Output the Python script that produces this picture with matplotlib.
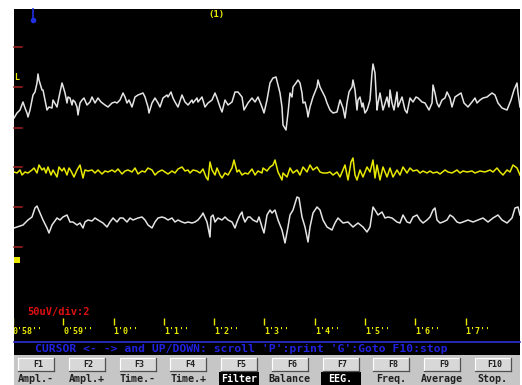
import numpy as np
import matplotlib
matplotlib.use("Agg")
import matplotlib.pyplot as plt
from matplotlib.patches import Rectangle

# EEG page 0'58" .. 1'8", samples counted from the left edge of the screen
FS = 50.3      # screen samples per second
T0 = 58.02     # time of sample 0 (s)

# (sample, amplitude)
ch1 = np.array([
    (0, -18), (3, -13), (6, -10), (9, -2), (11, -8), (13, -13), (14, -17), (16, -10), (19, 5), (21, 8),
    (23, 17), (24, 26), (25, 20), (28, 10), (29, 10), (31, 0), (33, -10), (35, -7), (38, -8), (39, 0),
    (43, -7), (45, 3), (48, 17), (49, 14), (51, 7), (53, -3), (54, 3), (56, 2), (58, -5), (59, 0),
    (61, -2), (63, -7), (64, -15), (66, -3), (68, 0), (70, 2), (73, -5), (76, -2), (78, 3), (81, -3),
    (84, 2), (87, -2), (91, -5), (94, -7), (98, -3), (101, -2), (103, -3), (106, 0), (109, 7), (111, 3),
    (113, -3), (115, 0), (118, -7), (121, 3), (124, 5), (129, 7), (131, 3), (134, -7), (135, -13), (138, -3),
    (141, 2), (144, -3), (146, -7), (149, 2), (153, 5), (154, 3), (157, 8), (159, 2), (161, -2), (164, -7),
    (168, 5), (171, -2), (174, -5), (178, 0), (179, -3), (183, 2), (184, -2), (188, 3), (191, -7), (194, -3),
    (198, 0), (201, 7), (203, 2), (206, -7), (208, -12), (211, 0), (214, -5), (218, -2), (221, 8), (224, 8),
    (228, 3), (230, -10), (234, -3), (238, 2), (241, -2), (244, 3), (248, -7), (250, -13),
    (253, 0), (256, 17), (259, 22), (262, 23), (264, 15), (266, 7), (268, -7), (269, -25), (272, -30), (274, -13),
    (276, 7), (278, 3), (279, 13), (282, 17), (284, 20), (286, 17), (288, 7), (289, -3), (291, -2), (293, -10),
    (294, -17), (296, -7), (299, 3), (303, 13), (304, 20), (306, 13), (309, 7), (311, 3), (313, -3), (316, -10),
    (319, -13), (323, -12), (326, 0), (329, -8), (331, -18), (333, -3), (335, 8), (338, 13), (339, 20), (341, 10),
    (343, -10), (344, 0), (346, 3), (348, -7), (349, -3), (351, -13), (353, -10), (354, -7), (356, 0), (358, 27),
    (359, 36), (361, 27), (363, -10), (364, -3), (366, 7), (369, -10), (373, 3), (375, -7),
    (376, 10), (378, -3), (380, -10), (383, 8), (384, -7), (388, 3), (391, -10), (393, -13), (396, 2), (399, -2),
    (402, 3), (404, 2), (408, -2), (411, -3), (415, -10), (418, -3), (419, 15), (421, 7), (423, -3), (425, -7),
    (428, 0), (431, 2), (433, 8), (436, 2), (438, -7), (441, 3), (444, 5), (447, 7), (450, -3), (454, -7),
    (458, -2), (461, 2), (463, -3), (466, 0), (469, 2), (473, 3), (478, 7), (481, 5), (484, -3), (488, -8),
    (493, -10), (497, 0), (500, 10), (503, 17), (504, 7), (506, -7),
])

ch2 = np.array([
    (0, -2), (3, -3), (6, 0), (8, -5), (11, -2), (14, -3), (18, 0), (20, 2), (23, -3), (25, 5),
    (28, 0), (30, 2), (32, -3), (34, 3), (37, -5), (39, 0), (43, -7), (45, 3), (48, -1), (50, 2),
    (53, -5), (55, 2), (57, -1), (60, -7), (63, 0), (66, 5), (69, -8), (71, 0), (74, -1), (78, 0),
    (81, -3), (84, 0), (88, -4), (91, -1), (94, -2), (98, 0), (101, -2), (104, 1), (108, -4), (111, -1),
    (114, 0), (118, -2), (121, 2), (124, -4), (128, -1), (131, -2), (134, 2), (138, 0), (141, -5), (144, -2),
    (148, 0), (151, -2), (154, -4), (158, -1), (161, -3), (164, 1), (168, 3), (171, -1), (174, 0), (176, -3),
    (179, 0), (183, -1), (186, -3), (189, 1), (192, -7), (194, -10), (196, 8), (198, 0), (201, -5), (203, 2),
    (206, -5), (208, -8), (211, -3), (214, -5), (218, 2), (220, 10), (223, -2), (225, 0), (228, -5), (231, -3),
    (234, -4), (238, 1), (241, -5), (244, -1), (248, -3), (249, 2), (253, -1), (256, 3), (259, 5), (261, 10),
    (264, -2), (268, -10), (269, -3), (273, -7), (276, 2), (279, -3), (283, 0), (286, -5), (289, 3), (293, -2),
    (296, 5), (299, 0), (303, 3), (306, -2), (309, -3), (313, -3), (316, -2), (319, -5), (323, -2), (326, -7),
    (331, 5), (334, -10), (337, 8), (339, 12), (341, -5), (343, -10), (346, 0), (349, -7), (353, 3), (356, -2),
    (359, 10), (361, -8), (363, 5), (366, -10), (369, 3), (373, -7), (376, 2), (379, -7), (383, 0), (386, -5),
    (389, 3), (393, -3), (396, 2), (399, -1), (403, 0), (406, -3), (409, -1), (413, -3), (416, -1), (419, -3),
    (423, -2), (426, -4), (431, 0), (434, -2), (438, -3), (443, 0), (446, -3), (449, -1), (453, -2), (458, -1),
    (461, -3), (466, -1), (471, -2), (476, 0), (479, -2), (483, 2), (486, -2), (489, -5), (493, 0), (496, -2),
    (499, 5), (503, 2), (506, -5),
])

ch3 = np.array([
    (0, -6), (3, -5), (9, -3), (14, 2), (18, 5), (21, 14), (23, 16), (26, 9), (29, 2), (33, -6),
    (35, -11), (38, -3), (43, 4), (46, 2), (49, 5), (53, 7), (56, 0), (59, 0), (63, -3), (66, -1),
    (69, -6), (71, 0), (74, 2), (78, 1), (81, 4), (84, 2), (89, -1), (93, -5), (96, 0), (99, 4),
    (103, 0), (106, 4), (109, 4), (113, 0), (116, 4), (119, 2), (124, 4), (128, 5), (131, 2), (134, -3),
    (138, -6), (141, 0), (144, 4), (148, 5), (151, 4), (154, 2), (158, 4), (161, 0), (164, 2), (168, 0),
    (171, -1), (174, 0), (178, -1), (181, 0), (184, 2), (188, 7), (189, 9), (193, 0), (196, -15), (197, 5),
    (199, 7), (201, 0), (204, 4), (208, 2), (211, 5), (214, 2), (218, 0), (221, -6), (223, 0), (226, 7),
    (228, 10), (229, 5), (231, 0), (234, 5), (236, 5), (239, 2), (243, 0), (245, 5), (248, -5), (250, -11),
    (253, 7), (256, 12), (258, 9), (261, 12), (264, 2), (268, -8), (271, -21), (274, -5), (276, 7), (279, 12),
    (283, 25), (285, 24), (288, 5), (291, -5), (294, -20), (296, -5), (299, 9), (303, 15), (306, 12), (309, 2),
    (313, -5), (318, -8), (321, -1), (324, 4), (329, -1), (334, 0), (339, -5), (344, -1), (349, -5), (353, -10),
    (356, -5), (359, 15), (361, 12), (364, 7), (368, 10), (371, 4), (374, 5), (378, 4), (383, 0), (386, -1),
    (389, 7), (393, 0), (396, -1), (399, 5), (403, 7), (406, 2), (409, -1), (413, 2), (416, 5), (419, 12),
    (421, 14), (423, 2), (426, -1), (429, 0), (433, 2), (436, 7), (439, 5), (443, 0), (446, -1), (449, 0),
    (454, 2), (459, 0), (464, 2), (469, 4), (474, 0), (479, 4), (484, 7), (488, 2), (493, -1), (498, 4),
    (501, 14), (504, 15), (506, 7),
])

channels = [ch1, ch2, ch3]
ch_rows = [100, 170, 222]
ch_colors = ["#e4e4e4", "#e8e800", "#e4e4e4"]

tick_sec = [58, 59, 60, 61, 62, 63, 64, 65, 66, 67]
tick_labels = ["0'58''", "0'59''", "1'0''", "1'1''", "1'2''", "1'3''", "1'4''", "1'5''", "1'6''", "1'7''"]

fkeys = ["F1", "F2", "F3", "F4", "F5", "F6", "F7", "F8", "F9", "F10"]
fkey_labels = ["Ampl.-", "Ampl.+", "Time.-", "Time.+", "Filter", "Balance", "EEG.", "Freq.", "Average", "Stop."]
fkey_active = ["Filter", "EEG."]
status = "CURSOR <- -> and UP/DOWN: scroll 'P':print 'G':Goto F10:stop"
scale_text = "50uV/div:2"
page_text = "(1)"

W, H = 522, 385
MONO = "DejaVu Sans Mono"

fig = plt.figure(figsize=(W / 100, H / 100), dpi=100)
fig.patch.set_facecolor("white")

# screen frame in pixel coords
bg = fig.add_axes([0, 0, 1, 1])
bg.set_xlim(0, W)
bg.set_ylim(H, 0)
bg.axis("off")
bg.add_patch(Rectangle((14, 9), 506, 346, facecolor="black", edgecolor="none"))
bg.add_patch(Rectangle((14, 355), 506, 30, facecolor="#c6c6c6", edgecolor="none"))

# left calibration marks
for yy in [47, 87, 128, 167, 207, 247]:
    bg.plot([14, 22], [yy, yy], color="#a02020", lw=1.1)
bg.text(14.5, 77, "L", color="#e8e800", fontsize=6, family=MONO, fontweight="bold", va="center", ha="left")
bg.add_patch(Rectangle((14, 257), 6, 6, facecolor="#e8e800", edgecolor="none"))

# cursor marker and page number
bg.plot([33, 33], [9, 19], color="#2030e0", lw=1.2)
bg.plot([33], [20], marker="o", ms=3, color="#2030e0")
bg.text(216, 15, page_text, color="#e8e800", fontsize=6.5, family=MONO, fontweight="bold", ha="center", va="center")

bg.text(27, 312, scale_text, color="#e01010", fontsize=7.5, family=MONO, fontweight="bold", va="center", ha="left")

# status line
bg.plot([14, 520], [341.5, 341.5], color="#3030d0", lw=1.2)
bg.text(35, 348.5, status, color="#2020e0", fontsize=8.2, family=MONO, fontweight="bold", va="center", ha="left")

# function keys
for i, (key, lab) in enumerate(zip(fkeys, fkey_labels)):
    cx = 36 + i * 50.75
    x0, x1, y0, y1 = cx - 18, cx + 18, 358, 371
    bg.add_patch(Rectangle((x0, y0), x1 - x0, y1 - y0, facecolor="#d8d8d8", edgecolor="none"))
    bg.plot([x0, x1], [y0, y0], color="white", lw=0.8)
    bg.plot([x0, x0], [y0, y1], color="white", lw=0.8)
    bg.plot([x0, x1], [y1, y1], color="#505050", lw=0.9)
    bg.plot([x1, x1], [y0, y1], color="#505050", lw=0.9)
    bg.text(cx + 2, 364.5, key, color="#202020", fontsize=6, family=MONO, fontweight="bold", ha="center", va="center")
    if lab in fkey_active:
        bg.add_patch(Rectangle((cx - 20, 372), 40, 13, facecolor="black", edgecolor="none"))
        bg.text(cx, 378.5, lab, color="white", fontsize=7.2, family=MONO, fontweight="bold", ha="center", va="center")
    else:
        bg.text(cx, 378.5, lab, color="#202020", fontsize=7.2, family=MONO, fontweight="bold", ha="center", va="center")

# traces
ax = fig.add_axes([14 / W, 1 - 341 / H, 506 / W, 332 / H])
ax.patch.set_alpha(0)
ax.set_xlim(T0, T0 + 506 / FS)
ax.set_ylim(341, 9)
ax.axis("off")

for ch, row, col in zip(channels, ch_rows, ch_colors):
    t = T0 + ch[:, 0] / FS
    ax.plot(t, row - ch[:, 1], color=col, lw=1.1)

ax.vlines(tick_sec, 318, 325, color="#e8e800", lw=1.0)
for ts, lab in zip(tick_sec, tick_labels):
    ax.text(ts, 332, lab, color="#e8e800", fontsize=6, family=MONO, fontweight="bold",
            ha="left", va="center", clip_on=True)

fig.savefig("out.png", dpi=100, facecolor="white")
